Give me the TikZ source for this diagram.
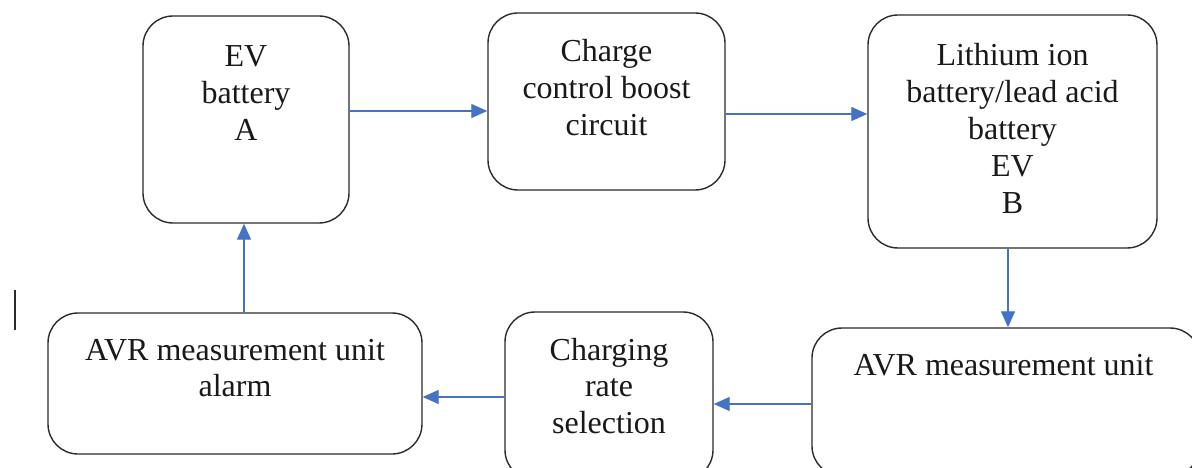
\documentclass[tikz,border=0pt]{standalone}
\usepackage{fontspec}
\setmainfont{Liberation Serif}
\newfontfamily\tnrfont{Liberation Serif}
\usetikzlibrary{arrows.meta}
\definecolor{arrblue}{HTML}{4472C4}
\definecolor{edgegray}{HTML}{2B2B2B}
\tikzset{
  box/.style={draw=edgegray, line width=1.4pt, rounded corners=30pt, rectangle, inner sep=0pt},
  lbl/.style={anchor=base, inner sep=0pt, text=black!90, font=\tnrfont\fontsize{32}{36.8}\selectfont},
  arr/.style={draw=arrblue, line width=1.3pt, -{Triangle[length=16pt,width=14pt]}},
}
\newcommand{\lines}[1]{\begin{tabular}[t]{@{}c@{}}#1\end{tabular}}
\begin{document}
\begin{tikzpicture}[x=1pt,y=-1pt]
\useasboundingbox (0,0) rectangle (1192,468);
\clip (0,0) rectangle (1192,468);
\fill[white] (0,0) rectangle (1192,468);
% boxes
\node[box, minimum width=206pt, minimum height=207pt] (A) at (246,119.5) {};
\node[box, minimum width=237pt, minimum height=177pt] (B) at (606.5,101.5) {};
\node[box, minimum width=289pt, minimum height=233pt] (C) at (1012.5,131.5) {};
\node[box, minimum width=388pt, minimum height=148pt] (D) at (1006,402) {};
\node[box, minimum width=208pt, minimum height=168pt] (E) at (609,396) {};
\node[box, minimum width=374pt, minimum height=141pt] (F) at (235,383.5) {};
% texts
\node[lbl] (tA) at (246,67) {\lines{EV\\battery\\A}};
\node[lbl] (tB) at (606.5,62) {\lines{Charge\\control boost\\circuit}};
\node[lbl] (tC) at (1012.5,66) {\lines{Lithium ion\\battery/lead acid\\battery\\EV\\B}};
\node[lbl] (tD) at (1003.5,375) {\lines{AVR measurement unit}};
\node[lbl] (tE) at (609,360) {\lines{Charging\\rate\\selection}};
\node[lbl] (tF) at (235,360) {\lines{AVR measurement unit\\alarm}};
% connectors
\draw[arr] ([yshift=8.5pt]A.east) -- ([yshift=8.5pt]A.east -| B.west);
\draw[arr] ([yshift=-12.5pt]B.east) -- ([yshift=-12.5pt]B.east -| C.west);
\draw[arr] ([xshift=-4.5pt]C.south) -- ([xshift=-4.5pt]C.south |- D.north);
\draw[arr] ([yshift=-2pt]D.west) -- ([yshift=-2pt]D.west -| E.east);
\draw[arr] ([yshift=-1pt]E.west) -- ([yshift=-1pt]E.west -| F.east);
\draw[arr] ([xshift=9pt]F.north) -- ([xshift=9pt]F.north |- A.south);
% cursor mark
\coordinate (c1) at (15,290);
\coordinate (c2) at (15,330);
\draw[edgegray, line width=1.4pt] (c1) -- (c2);
\end{tikzpicture}
\end{document}
